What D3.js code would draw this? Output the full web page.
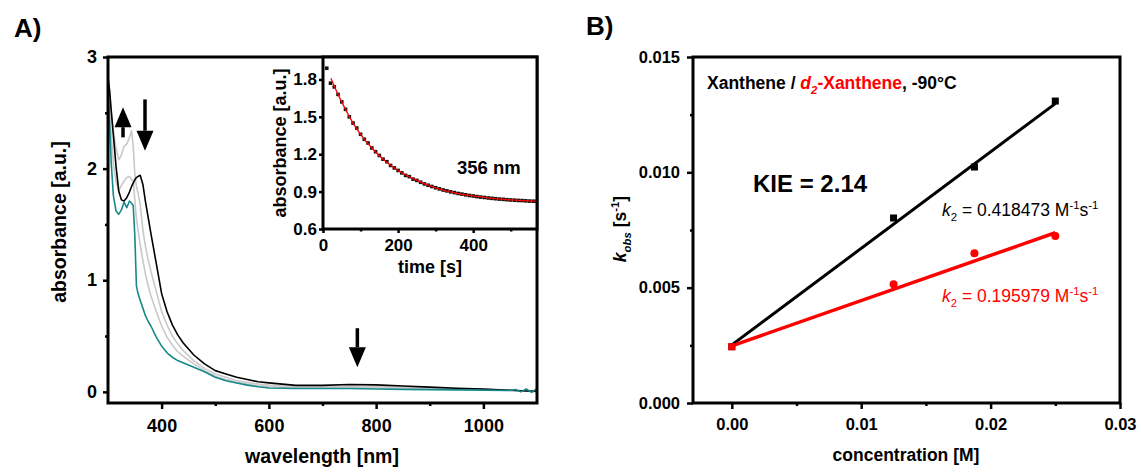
<!DOCTYPE html>
<html>
<head>
<meta charset="utf-8">
<script src="https://cdn.jsdelivr.net/npm/d3@7"></script>
<style>
body { margin: 0; background: #fff; }
svg { display: block; font-family: "Liberation Sans", Arial, sans-serif; }
</style>
</head>
<body>
<script>
"use strict";
// panel A: UV-vis spectra
const specNm = [300,303,306,310,315,320,325,330,335,340,344,347,350,353,356,360,365,370,375,380,390,400,410,420,430,440,460,480,500,520,540,560,580,600,650,700,750,800,850,900,950,1000,1050,1060,1070,1080,1090,1100];
const specBlack = [2.82,2.70,2.52,2.30,2.02,1.80,1.72,1.71,1.74,1.79,1.84,1.87,1.90,1.92,1.93,1.94,1.86,1.70,1.56,1.42,1.15,0.88,0.72,0.60,0.51,0.44,0.33,0.25,0.19,0.16,0.13,0.11,0.09,0.08,0.058,0.058,0.066,0.062,0.052,0.042,0.032,0.024,0.014,0.012,0.010,0.008,0.006,0.004];
const specGrey1 = [2.80,2.68,2.52,2.34,2.18,2.08,2.12,2.20,2.22,2.28,2.34,2.20,1.95,1.84,1.78,1.68,1.45,1.30,1.18,1.08,0.90,0.72,0.60,0.50,0.43,0.37,0.28,0.21,0.16,0.13,0.10,0.085,0.07,0.06,0.045,0.045,0.05,0.047,0.04,0.035,0.03,0.022,0.014,0.012,0.010,0.009,0.007,0.005];
const specGrey2 = [2.76,2.55,2.30,2.04,1.88,1.80,1.85,1.89,1.92,1.93,1.90,1.89,1.72,1.55,1.45,1.32,1.18,1.05,0.95,0.86,0.72,0.59,0.49,0.42,0.36,0.32,0.25,0.19,0.14,0.11,0.085,0.07,0.055,0.045,0.037,0.037,0.04,0.037,0.033,0.03,0.026,0.02,0.013,0.012,0.010,0.009,0.007,0.005];
const specTeal = [2.68,2.40,2.05,1.76,1.62,1.59,1.63,1.70,1.65,1.71,1.69,1.67,1.40,0.95,0.88,0.82,0.75,0.68,0.63,0.59,0.49,0.41,0.35,0.31,0.28,0.26,0.22,0.18,0.13,0.10,0.08,0.06,0.045,0.035,0.03,0.03,0.03,0.025,0.022,0.02,0.018,0.015,0.012,0.02,0.0,0.025,-0.005,0.03];
const arrowNm = [328, 369, 765];
const arrowFrom = [2.28, 2.62, 0.57];
const arrowTo = [2.55, 2.16, 0.22];

// inset: kinetic trace at 356 nm
const insetT = [10,20,30,40,50,60,70,80,90,100,110,120,130,140,150,160,170,180,190,200,210,220,230,240,250,260,270,280,290,300,310,320,330,340,350,360,370,380,390,400,410,420,430,440,450,460,470,480,490,500,510,520,530,540,550,560,570];
const insetA = [1.89,1.77,1.74,1.68,1.62,1.56,1.50,1.45,1.41,1.36,1.32,1.29,1.25,1.22,1.19,1.16,1.14,1.11,1.09,1.07,1.05,1.03,1.02,1.00,0.99,0.975,0.962,0.951,0.941,0.931,0.922,0.913,0.906,0.898,0.892,0.885,0.880,0.874,0.869,0.865,0.860,0.856,0.853,0.849,0.846,0.843,0.840,0.838,0.835,0.833,0.831,0.829,0.828,0.826,0.824,0.823,0.822];
const fitT = [21,40,60,80,100,130,160,200,250,300,350,400,450,500,570];
const fitA = [1.81,1.68,1.56,1.45,1.36,1.25,1.16,1.07,0.99,0.93,0.89,0.865,0.846,0.833,0.822];

// panel B: kobs vs concentration
const conc = [0, 0.0125, 0.01875, 0.025];
const kobsH = [0.00244, 0.00802, 0.01023, 0.01309];
const kobsD = [0.00244, 0.00515, 0.00649, 0.00724];
const fitConc = [0, 0.025];
const fitH = [0.00252, 0.01298];
const fitD = [0.00248, 0.00738];

const svg = d3.select("body").append("svg").attr("width", 1141).attr("height", 472);

function styleAxis(g, fs) {
	g.attr("font-family", null).attr("font-size", fs).attr("font-weight", "bold");
	g.select(".domain").remove();
	g.selectAll(".tick line").attr("stroke", "#000").attr("stroke-width", 2.5);
	g.selectAll(".tick text").attr("fill", "#000");
	return g;
}
function frame(x, y) {
	svg.append("rect")
		.attr("x", x.range()[0]).attr("y", y.range()[1])
		.attr("width", x.range()[1] - x.range()[0])
		.attr("height", y.range()[0] - y.range()[1])
		.attr("fill", "none").attr("stroke", "#000").attr("stroke-width", 3);
}
function rich(t, parts, base) {
	let shift = 0;
	parts.forEach(p => {
		const target = p.sub ? base * 0.3 : p.sup ? -base * 0.4 : 0;
		const ts = t.append("tspan").text(p.t).attr("dy", target - shift);
		shift = target;
		if (p.sub || p.sup) ts.attr("font-size", base * 0.65);
		if (p.it) ts.attr("font-style", "italic");
		if (p.fill) ts.attr("fill", p.fill);
	});
}

// ---------- panel A ----------
const ax = d3.scaleLinear().domain([300, 1100]).range([108, 537]);
const ay = d3.scaleLinear().domain([-0.1, 3]).range([403, 57]);

svg.append("clipPath").attr("id", "clipA").append("rect")
	.attr("x", 108).attr("y", 57).attr("width", 429).attr("height", 346);

const specLine = vals => d3.line().x((d, i) => ax(specNm[i])).y((d, i) => ay(vals[i]))(specNm);
[[specGrey2, "#c9c9c9"], [specGrey1, "#c9c9c9"], [specBlack, "#000"], [specTeal, "#168a8a"]].forEach(s => {
	svg.append("path").attr("clip-path", "url(#clipA)")
		.attr("d", specLine(s[0])).attr("fill", "none")
		.attr("stroke", s[1]).attr("stroke-width", 1.6).attr("stroke-linejoin", "round");
});

arrowNm.forEach((nm, i) => {
	const x = ax(nm), y0 = ay(arrowFrom[i]), y1 = ay(arrowTo[i]);
	const dir = y1 < y0 ? -1 : 1;
	const hb = y1 - dir * 20;
	svg.append("line").attr("x1", x).attr("x2", x).attr("y1", y0).attr("y2", hb)
		.attr("stroke", "#000").attr("stroke-width", 3.5);
	svg.append("path").attr("d", `M${x - 8.5},${hb}L${x + 8.5},${hb}L${x},${y1}Z`).attr("fill", "#000");
});

styleAxis(svg.append("g").attr("transform", "translate(108,0)")
	.call(d3.axisLeft(ay).tickValues([0, 1, 2, 3]).tickSize(5).tickPadding(6).tickFormat(d3.format("d"))), 18);
styleAxis(svg.append("g").attr("transform", "translate(108,0)")
	.call(d3.axisLeft(ay).tickValues([0.5, 1.5, 2.5]).tickSize(3).tickFormat("")), 18);
styleAxis(svg.append("g").attr("transform", "translate(0,403)")
	.call(d3.axisBottom(ax).tickValues([400, 600, 800, 1000]).tickSize(6).tickPadding(10).tickFormat(d3.format("d"))), 18);
styleAxis(svg.append("g").attr("transform", "translate(0,403)")
	.call(d3.axisBottom(ax).tickValues([500, 700, 900]).tickSize(3).tickFormat("")), 18);
frame(ax, ay);

svg.append("text").attr("x", 322).attr("y", 463).attr("text-anchor", "middle")
	.attr("font-size", 19.5).attr("font-weight", "bold").text("wavelength [nm]");
svg.append("text").attr("transform", "translate(66,222) rotate(-90)").attr("text-anchor", "middle")
	.attr("font-size", 19.5).attr("font-weight", "bold").text("absorbance [a.u.]");
svg.append("text").attr("x", 14).attr("y", 37).attr("font-size", 26).attr("font-weight", "bold").text("A)");

// ---------- inset ----------
const ix = d3.scaleLinear().domain([0, 570]).range([323, 537]);
const iy = d3.scaleLinear().domain([0.6, 1.98]).range([229, 57]);
svg.append("rect").attr("x", 323).attr("y", 57).attr("width", 214).attr("height", 172).attr("fill", "#fff");
svg.append("clipPath").attr("id", "clipI").append("rect")
	.attr("x", 323).attr("y", 57).attr("width", 214).attr("height", 172);
svg.append("g").attr("clip-path", "url(#clipI)").selectAll("rect")
	.data(insetT).enter().append("rect")
	.attr("x", (d, i) => ix(d) - 1.8).attr("y", (d, i) => iy(insetA[i]) - 1.8)
	.attr("width", 3.6).attr("height", 3.6).attr("fill", "#111");
svg.append("path").attr("clip-path", "url(#clipI)")
	.attr("d", d3.line().curve(d3.curveMonotoneX).x(d => ix(d)).y((d, i) => iy(fitA[i]))(fitT))
	.attr("fill", "none").attr("stroke", "#f00").attr("stroke-width", 1.3);
styleAxis(svg.append("g").attr("transform", "translate(323,0)")
	.call(d3.axisLeft(iy).tickValues([0.6, 0.9, 1.2, 1.5, 1.8]).tickSize(4).tickPadding(2).tickFormat(d3.format(".1f"))), 17);
styleAxis(svg.append("g").attr("transform", "translate(0,229)")
	.call(d3.axisBottom(ix).tickValues([0, 200, 400]).tickSize(4).tickPadding(6).tickFormat(d3.format("d"))), 17);
styleAxis(svg.append("g").attr("transform", "translate(0,229)")
	.call(d3.axisBottom(ix).tickValues([100, 300, 500]).tickSize(2.5).tickFormat("")), 17);
frame(ix, iy);
svg.append("text").attr("x", 430).attr("y", 273).attr("text-anchor", "middle")
	.attr("font-size", 18).attr("font-weight", "bold").text("time [s]");
svg.append("text").attr("transform", "translate(286,143) rotate(-90)").attr("text-anchor", "middle")
	.attr("font-size", 18).attr("font-weight", "bold").text("absorbance [a.u.]");
svg.append("text").attr("x", 457).attr("y", 174)
	.attr("font-size", 18.5).attr("font-weight", "bold").text("356 nm");

// ---------- panel B ----------
const bx = d3.scaleLinear().domain([-0.003, 0.03]).range([693, 1120]);
const by = d3.scaleLinear().domain([0, 0.015]).range([403, 57]);

const fitLine = vals => d3.line().x(d => bx(d)).y((d, i) => by(vals[i]))(fitConc);
svg.append("path").attr("d", fitLine(fitH)).attr("stroke", "#000").attr("stroke-width", 3).attr("fill", "none");
svg.append("path").attr("d", fitLine(fitD)).attr("stroke", "#f00").attr("stroke-width", 3.5).attr("fill", "none");

svg.append("g").selectAll("rect").data(conc).enter().append("rect")
	.attr("x", d => bx(d) - 3.5).attr("y", (d, i) => by(kobsH[i]) - 3.5)
	.attr("width", 7).attr("height", 7).attr("fill", "#000");
svg.append("g").selectAll("circle").data(conc.slice(1)).enter().append("circle")
	.attr("cx", d => bx(d)).attr("cy", (d, i) => by(kobsD[i + 1])).attr("r", 4).attr("fill", "#f00");
svg.append("rect").attr("x", bx(conc[0]) - 3.5).attr("y", by(kobsD[0]) - 3.5)
	.attr("width", 7).attr("height", 7).attr("fill", "#f00");

styleAxis(svg.append("g").attr("transform", "translate(693,0)")
	.call(d3.axisLeft(by).tickValues([0, 0.005, 0.01, 0.015]).tickSize(6).tickPadding(7).tickFormat(d3.format(".3f"))), 16.5);
styleAxis(svg.append("g").attr("transform", "translate(693,0)")
	.call(d3.axisLeft(by).tickValues([0.0025, 0.0075, 0.0125]).tickSize(3).tickFormat("")), 16.5);
styleAxis(svg.append("g").attr("transform", "translate(0,403)")
	.call(d3.axisBottom(bx).tickValues([0, 0.01, 0.02, 0.03]).tickSize(6).tickPadding(9).tickFormat(d3.format(".2f"))), 16.5);
styleAxis(svg.append("g").attr("transform", "translate(0,403)")
	.call(d3.axisBottom(bx).tickValues([0.005, 0.015, 0.025]).tickSize(3).tickFormat("")), 16.5);
frame(bx, by);

svg.append("text").attr("x", 906).attr("y", 461).attr("text-anchor", "middle")
	.attr("font-size", 17.5).attr("font-weight", "bold").text("concentration [M]");
rich(svg.append("text").attr("transform", "translate(626,229) rotate(-90)").attr("text-anchor", "middle")
	.attr("font-size", 17.5).attr("font-weight", "bold"),
	[{t: "k", it: true}, {t: "obs", it: true, sub: true}, {t: " [s"}, {t: "-1", sup: true}, {t: "]"}], 17.5);

rich(svg.append("text").attr("x", 707).attr("y", 89).attr("font-size", 17.5).attr("font-weight", "bold"),
	[{t: "Xanthene / "}, {t: "d", it: true, fill: "#f00"}, {t: "2", it: true, sub: true, fill: "#f00"},
	 {t: "-Xanthene", fill: "#f00"}, {t: ", -90°C"}], 17.5);
svg.append("text").attr("x", 753).attr("y", 192).attr("font-size", 24).attr("font-weight", "bold").text("KIE = 2.14");
rich(svg.append("text").attr("x", 942).attr("y", 216).attr("font-size", 17.5),
	[{t: "k", it: true}, {t: "2", sub: true}, {t: " = 0.418473 M"}, {t: "-1", sup: true}, {t: "s"}, {t: "-1", sup: true}], 17.5);
rich(svg.append("text").attr("x", 942).attr("y", 302).attr("font-size", 17.5).attr("fill", "#f00"),
	[{t: "k", it: true}, {t: "2", sub: true}, {t: " = 0.195979 M"}, {t: "-1", sup: true}, {t: "s"}, {t: "-1", sup: true}], 17.5);
svg.append("text").attr("x", 586).attr("y", 35).attr("font-size", 26).attr("font-weight", "bold").text("B)");
</script>
</body>
</html>
